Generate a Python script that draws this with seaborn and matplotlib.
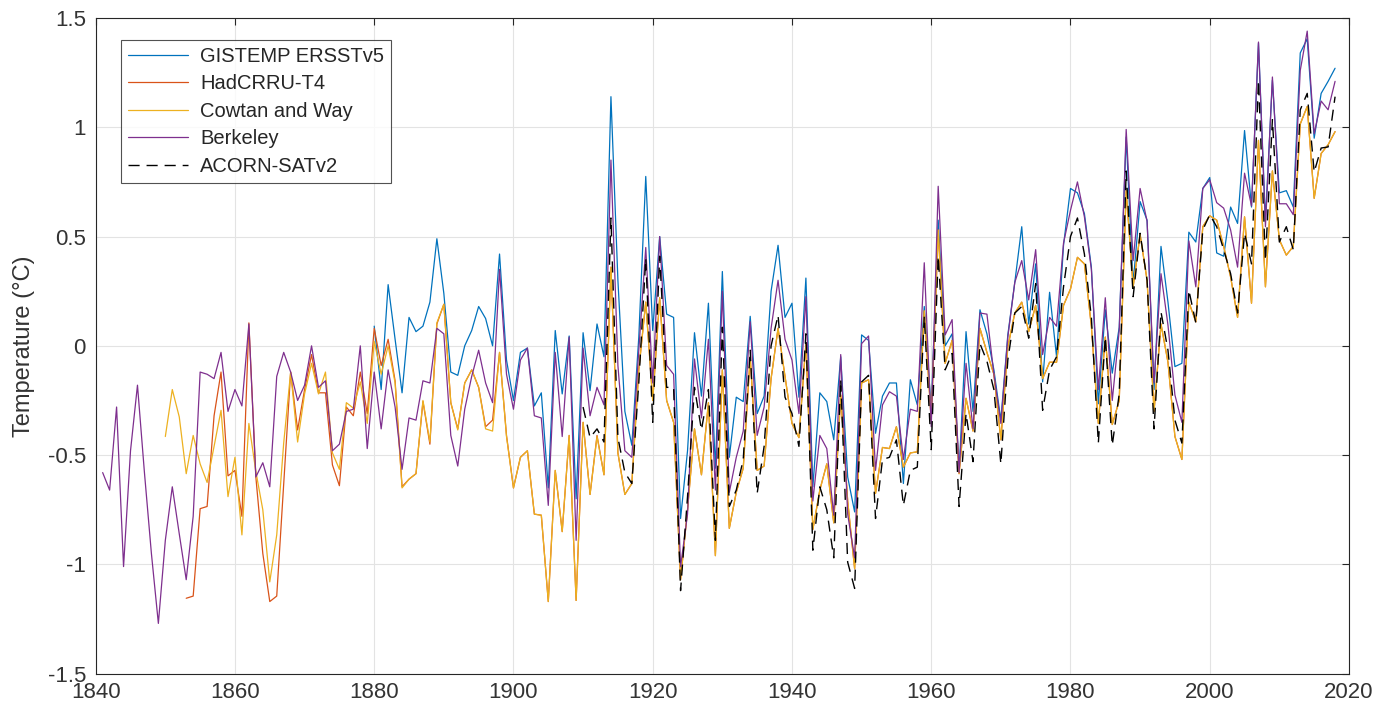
import matplotlib
matplotlib.use('Agg')
import matplotlib.pyplot as plt
import numpy as np
import pandas as pd
import seaborn as sns

# Annual temperature anomalies (degC)
berkeley_start = 1841
berkeley = [
    -0.58, -0.66, -0.28, -1.01, -0.48, -0.18, -0.58, -0.95, -1.27,            # 1841-1849
    -0.89, -0.645, -0.86, -1.07, -0.78, -0.12, -0.13, -0.15, -0.03, -0.30,   # 1850s
    -0.20, -0.275, 0.10, -0.60, -0.535, -0.645, -0.14, -0.03, -0.12, -0.25,  # 1860s
    -0.18, 0.00, -0.19, -0.16, -0.48, -0.45, -0.30, -0.29, 0.00, -0.47,      # 1870s
    -0.12, -0.38, -0.11, -0.28, -0.565, -0.33, -0.34, -0.16, -0.17, 0.08,    # 1880s
    0.055, -0.41, -0.55, -0.29, -0.14, -0.02, -0.17, -0.26, 0.35, -0.13,     # 1890s
    -0.29, -0.065, -0.01, -0.32, -0.33, -0.73, -0.03, -0.415, 0.04, -0.89,   # 1900s
    -0.01, -0.32, -0.19, -0.27, 0.85, -0.09, -0.48, -0.51, -0.02, 0.45,      # 1910s
    -0.17, 0.50, -0.09, -0.13, -1.01, -0.77, -0.06, -0.33, 0.03, -0.66,      # 1920s
    0.25, -0.67, -0.51, -0.39, 0.11, -0.41, -0.28, 0.08, 0.30, 0.03,         # 1930s
    -0.065, -0.31, 0.225, -0.71, -0.41, -0.47, -0.775, -0.04, -0.77, -0.97,  # 1940s
    0.01, 0.045, -0.57, -0.27, -0.21, -0.23, -0.52, -0.29, -0.30, 0.38,      # 1950s
    -0.37, 0.73, 0.05, 0.12, -0.58, -0.08, -0.38, 0.15, 0.145, -0.13,        # 1960s
    -0.355, 0.04, 0.29, 0.39, 0.21, 0.44, -0.04, 0.13, 0.09, 0.47,           # 1970s
    0.62, 0.75, 0.59, 0.35, -0.20, 0.22, -0.25, 0.07, 0.99, 0.39,            # 1980s
    0.72, 0.57, -0.17, 0.33, 0.095, -0.225, -0.35, 0.48, 0.27, 0.72,         # 1990s
    0.76, 0.655, 0.63, 0.53, 0.36, 0.79, 0.64, 1.39, 0.545, 1.23,            # 2000s
    0.65, 0.65, 0.60, 1.26, 1.44, 0.97, 1.12, 1.08, 1.21,                    # 2010-2018
]

cowtan_start = 1850
cowtan = [
    -0.415, -0.20, -0.325, -0.585, -0.41, -0.54, -0.625, -0.46, -0.295, -0.69,
    -0.51, -0.865, -0.355, -0.575, -0.75, -1.08, -0.865, -0.445, -0.12, -0.44,
    -0.22, -0.08, -0.22, -0.12, -0.49, -0.565, -0.26, -0.285, -0.165, -0.355,
    0.02, -0.13, 0.00, -0.17, -0.65, -0.61, -0.585, -0.25, -0.44, 0.105,
    0.19, -0.26, -0.385, -0.17, -0.11, -0.19, -0.38, -0.39, -0.03, -0.415,
    -0.65, -0.51, -0.48, -0.77, -0.775, -1.17, -0.57, -0.85, -0.41, -1.165,
    -0.35, -0.68, -0.415, -0.59, 0.36, -0.49, -0.68, -0.63, -0.11, 0.20,
    -0.25, 0.22, -0.25, -0.35, -1.07, -0.75, -0.38, -0.59, -0.26, -0.96,
    -0.11, -0.835, -0.67, -0.56, -0.05, -0.57, -0.55, -0.15, 0.08, -0.14,
    -0.355, -0.42, 0.01, -0.84, -0.66, -0.54, -0.81, -0.225, -0.71, -1.02,
    -0.17, -0.155, -0.675, -0.465, -0.47, -0.37, -0.555, -0.49, -0.485, 0.16,
    -0.34, 0.53, -0.08, 0.025, -0.585, -0.24, -0.39, 0.08, -0.03, -0.13,
    -0.43, -0.005, 0.15, 0.20, 0.065, 0.185, -0.15, -0.075, -0.075, 0.185,
    0.26, 0.405, 0.375, 0.09, -0.355, 0.04, -0.36, -0.25, 0.71, 0.27,
    0.51, 0.30, -0.30, 0.10, -0.075, -0.415, -0.52, 0.20, 0.11, 0.545,
    0.595, 0.575, 0.455, 0.315, 0.13, 0.59, 0.195, 0.94, 0.27, 0.80,
    0.485, 0.415, 0.455, 1.015, 1.095, 0.675, 0.88, 0.92, 0.98,
]

hadcrut_start = 1853
hadcrut = [
    -1.155, -1.145, -0.745, -0.735, -0.32, -0.12, -0.595,
    -0.57, -0.78, 0.105, -0.60, -0.95, -1.17, -1.145, -0.63, -0.12, -0.385,
    -0.20, -0.04, -0.215, -0.215, -0.545, -0.64, -0.28, -0.32, -0.12, -0.31,
    0.08, -0.09, 0.03, -0.16, -0.645, -0.61, -0.585, -0.255, -0.45, 0.10,
    0.19, -0.26, -0.38, -0.17, -0.11, -0.19, -0.37, -0.34, -0.03, -0.41,
    -0.65, -0.51, -0.48, -0.77, -0.775, -1.17, -0.57, -0.85, -0.41, -1.165,
    -0.35, -0.68, -0.41, -0.59, 0.36, -0.49, -0.68, -0.63, -0.11, 0.20,
    -0.25, 0.22, -0.25, -0.35, -1.07, -0.75, -0.38, -0.59, -0.26, -0.96,
    -0.11, -0.835, -0.67, -0.56, -0.05, -0.57, -0.55, -0.15, 0.08, -0.14,
    -0.355, -0.42, 0.01, -0.84, -0.66, -0.54, -0.81, -0.225, -0.71, -1.02,
    -0.17, -0.155, -0.675, -0.465, -0.47, -0.37, -0.555, -0.49, -0.485, 0.16,
    -0.34, 0.53, -0.08, 0.025, -0.585, -0.24, -0.39, 0.08, -0.03, -0.13,
    -0.43, -0.005, 0.15, 0.20, 0.065, 0.185, -0.15, -0.075, -0.075, 0.185,
    0.26, 0.405, 0.375, 0.09, -0.355, 0.04, -0.36, -0.25, 0.71, 0.27,
    0.51, 0.30, -0.30, 0.10, -0.075, -0.415, -0.52, 0.20, 0.11, 0.545,
    0.595, 0.575, 0.455, 0.315, 0.13, 0.59, 0.195, 0.94, 0.27, 0.80,
    0.485, 0.415, 0.455, 1.015, 1.095, 0.675, 0.88, 0.92, 0.98,
]

gistemp_start = 1880
gistemp = [
    0.09, -0.20, 0.28, 0.03, -0.215, 0.13, 0.065, 0.09, 0.20, 0.49,
    0.24, -0.12, -0.135, 0.00, 0.07, 0.18, 0.125, 0.00, 0.42, -0.065,
    -0.25, -0.03, -0.01, -0.275, -0.215, -0.65, 0.07, -0.22, 0.045, -0.70,
    0.06, -0.205, 0.10, -0.05, 1.14, 0.30, -0.30, -0.455, 0.04, 0.775,
    0.07, 0.50, 0.145, 0.13, -0.79, -0.48, 0.06, -0.23, 0.195, -0.56,
    0.34, -0.51, -0.235, -0.255, 0.135, -0.31, -0.23, 0.25, 0.46, 0.13,
    0.195, -0.235, 0.31, -0.645, -0.215, -0.255, -0.43, -0.05, -0.60, -0.76,
    0.05, 0.025, -0.40, -0.23, -0.17, -0.17, -0.63, -0.155, -0.27, 0.18,
    -0.295, 0.575, 0.00, 0.055, -0.57, 0.065, -0.30, 0.165, 0.055, -0.11,
    -0.34, 0.05, 0.29, 0.545, 0.10, 0.375, -0.165, 0.245, -0.05, 0.46,
    0.72, 0.70, 0.605, 0.36, -0.265, 0.165, -0.125, 0.085, 0.955, 0.285,
    0.66, 0.575, -0.20, 0.455, 0.20, -0.095, -0.08, 0.52, 0.475, 0.72,
    0.77, 0.425, 0.41, 0.635, 0.56, 0.985, 0.635, 1.385, 0.575, 1.215,
    0.70, 0.71, 0.635, 1.34, 1.405, 0.95, 1.155, 1.21, 1.27,
]

acorn_start = 1910
acorn = [
    -0.28, -0.42, -0.38, -0.44, 0.585, -0.42, -0.58, -0.63, -0.17, 0.40,
    -0.35, 0.41, -0.19, -0.19, -1.12, -0.69, -0.19, -0.385, -0.20, -0.89,
    0.085, -0.735, -0.66, -0.52, -0.02, -0.675, -0.46, 0.00, 0.14, -0.235,
    -0.31, -0.46, 0.055, -0.935, -0.645, -0.75, -0.97, -0.155, -0.99, -1.11,
    -0.165, -0.135, -0.79, -0.52, -0.51, -0.43, -0.73, -0.57, -0.555, 0.135,
    -0.475, 0.41, -0.11, -0.035, -0.735, -0.31, -0.53, 0.01, -0.07, -0.20,
    -0.54, -0.065, 0.15, 0.18, 0.035, 0.285, -0.295, -0.11, -0.05, 0.27,
    0.50, 0.585, 0.42, 0.13, -0.445, 0.04, -0.455, -0.22, 0.80, 0.225,
    0.515, 0.30, -0.38, 0.155, -0.02, -0.34, -0.445, 0.255, 0.105, 0.53,
    0.60, 0.545, 0.44, 0.33, 0.15, 0.515, 0.375, 1.215, 0.39, 1.035,
    0.475, 0.545, 0.44, 1.08, 1.155, 0.795, 0.905, 0.91, 1.14,
]

series_names = ['GISTEMP ERSSTv5', 'HadCRRU-T4', 'Cowtan and Way', 'Berkeley', 'ACORN-SATv2']
series_data = [gistemp, hadcrut, cowtan, berkeley, acorn]
series_start = [gistemp_start, hadcrut_start, cowtan_start, berkeley_start, acorn_start]
colors = ['#0072BD', '#D95319', '#EDB120', '#7E2F8E', '#000000']

frames = []
for name, vals, start in zip(series_names, series_data, series_start):
    frames.append(pd.DataFrame({'year': np.arange(start, start + len(vals)),
                                'temp': vals, 'series': name}))
df = pd.concat(frames, ignore_index=True)

sns.set_theme(style='white')
plt.rcParams['font.family'] = ['Liberation Sans', 'DejaVu Sans']

fig = plt.figure(figsize=(13.91, 7.11), dpi=100)
ax = fig.add_axes([0.0688, 0.0525, 0.9010, 0.9222])

for name, color in zip(series_names, colors):
    sub = df[df['series'] == name]
    if name == 'ACORN-SATv2':
        sns.lineplot(data=sub, x='year', y='temp', color=color, lw=1.0,
                     label=name, ax=ax, linestyle=(0, (8, 5)))
    else:
        sns.lineplot(data=sub, x='year', y='temp', color=color, lw=0.9,
                     label=name, ax=ax)

ax.set_xlim(1840, 2020)
ax.set_ylim(-1.5, 1.5)
ax.set_xticks(np.arange(1840, 2021, 20))
ax.set_yticks([-1.5, -1, -0.5, 0, 0.5, 1, 1.5])
ax.set_yticklabels(['-1.5', '-1', '-0.5', '0', '0.5', '1', '1.5'])
ax.grid(True, color='#e3e3e3', lw=0.8)
ax.set_axisbelow(True)
for sp in ax.spines.values():
    sp.set_color('#262626')
    sp.set_linewidth(0.8)
ax.tick_params(direction='in', length=5, width=0.8, colors='#262626',
               labelsize=16, top=True, right=True, labelcolor='#333333')
ax.tick_params(axis='x', pad=6)
ax.tick_params(axis='y', pad=7)
ax.set_xlabel('')
ax.set_ylabel('Temperature (°C)', fontsize=17, color='#333333', labelpad=9)

leg = ax.legend(loc='upper left', bbox_to_anchor=(0.012, 0.982), fontsize=14.5,
                frameon=True, fancybox=False, edgecolor='#262626',
                handlelength=3.0, borderpad=0.35, labelspacing=0.42, handletextpad=0.6)
leg.get_frame().set_linewidth(0.8)

fig.savefig('out.png', dpi=100)
